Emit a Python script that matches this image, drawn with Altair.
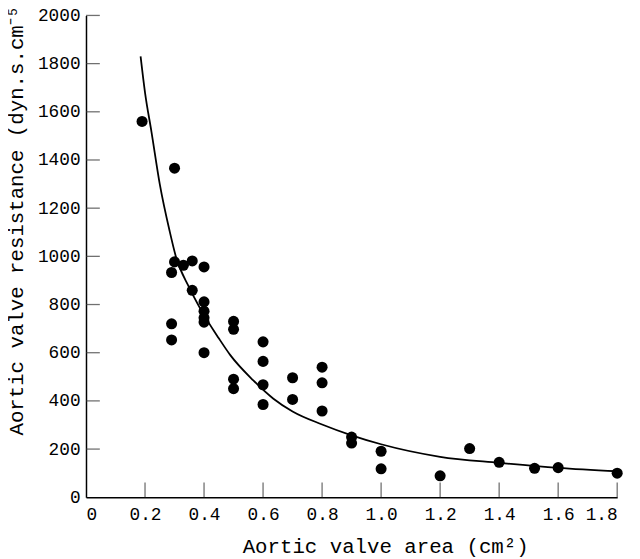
import altair as alt
import pandas as pd

# Scatter data (aortic valve area cm^2, resistance dyn.s.cm^-5)
area = [0.19, 0.30, 0.30, 0.29, 0.33, 0.36, 0.40, 0.36, 0.40, 0.40, 0.40, 0.40,
        0.29, 0.29, 0.40, 0.50, 0.50, 0.60, 0.60, 0.50, 0.50, 0.60, 0.60,
        0.70, 0.70, 0.80, 0.80, 0.80, 0.90, 0.90, 1.00, 1.00, 1.20, 1.30,
        1.40, 1.52, 1.60, 1.80]
resist = [1560, 1366, 977, 933, 963, 981, 956, 859, 811, 772, 745, 727,
          720, 653, 600, 730, 697, 645, 564, 490, 451, 467, 385,
          496, 406, 540, 475, 358, 250, 225, 191, 118, 89, 202,
          145, 120, 123, 100]

# Fitted curve
curve_x = [0.185, 0.20, 0.222, 0.25, 0.283, 0.305, 0.35, 0.389, 0.45, 0.489,
           0.567, 0.634, 0.70, 0.80, 0.90, 1.00, 1.20, 1.40, 1.60, 1.80]
curve_y = [1830, 1680, 1516, 1300, 1107, 997, 870, 779, 660, 590,
           485, 410, 356, 302, 257, 220, 168, 143, 122, 108]

x_ticks = [0.2, 0.4, 0.6, 0.8, 1.0, 1.2, 1.4, 1.6, 1.8]
y_ticks = [200, 400, 600, 800, 1000, 1200, 1400, 1600, 1800, 2000]

W, H = 538, 488
FONT = "Liberation Mono"

pts = pd.DataFrame({"a": area, "r": resist})
crv = pd.DataFrame({"a": curve_x, "r": curve_y})
xt = pd.DataFrame({"a": x_ticks})
yt = pd.DataFrame({"r": y_ticks})

xscale = alt.Scale(domain=[0, 1.8], nice=False, zero=True)
yscale = alt.Scale(domain=[0, 2000], nice=False)

xaxis = alt.Axis(values=[0, 0.2, 0.4, 0.6, 0.8, 1.0, 1.2, 1.4, 1.6, 1.8],
                 labelExpr="datum.value == 0 ? '0' : format(datum.value, '.1f')",
                 ticks=False, grid=False, domainColor="black", domainWidth=1.5,
                 labelFont=FONT, labelFontSize=18, labelColor="black", labelPadding=9,
                 title="Aortic valve area (cm²)", titleFont=FONT, titleFontSize=21,
                 titleFontWeight="normal", titleColor="black",
                 titleX=303, titleY=56, titleBaseline="alphabetic", titleAlign="center")
yaxis = alt.Axis(values=[0] + y_ticks, format="d", ticks=False, grid=False,
                 domainColor="black", domainWidth=1.5, labelFont=FONT, labelFontSize=18,
                 labelColor="black", labelPadding=6,
                 title="Aortic valve resistance (dyn.s.cm⁻⁵)", titleFont=FONT,
                 titleFontSize=21, titleFontWeight="normal", titleColor="black",
                 titleAngle=270, titleX=-64, titleY=425, titleAlign="left",
                 titleBaseline="alphabetic")

points = alt.Chart(pts).mark_circle(color="black", opacity=1, size=125).encode(
    x=alt.X("a:Q", scale=xscale, axis=xaxis),
    y=alt.Y("r:Q", scale=yscale, axis=yaxis),
)
line = alt.Chart(crv).mark_line(color="black", strokeWidth=1.8, interpolate="monotone").encode(
    x=alt.X("a:Q", scale=xscale), y=alt.Y("r:Q", scale=yscale)
)
xtick = alt.Chart(xt).mark_tick(color="#333", thickness=1.3, size=15, orient="vertical",
                                yOffset=-7.5).encode(
    x=alt.X("a:Q", scale=xscale), y=alt.value(H)
)
ytick = alt.Chart(yt).mark_tick(color="#333", thickness=1.3, size=14, orient="horizontal",
                                xOffset=7).encode(
    y=alt.Y("r:Q", scale=yscale), x=alt.value(0)
)

chart = alt.layer(points, line, xtick, ytick).properties(
    width=W, height=H,
    autosize=alt.AutoSizeParams(type="none"),
    padding={"left": 79, "top": 4, "right": 15, "bottom": 59},
    background="white",
).configure_view(stroke=None)

chart.save("out.html", embed_options={"renderer": "svg", "actions": False})
